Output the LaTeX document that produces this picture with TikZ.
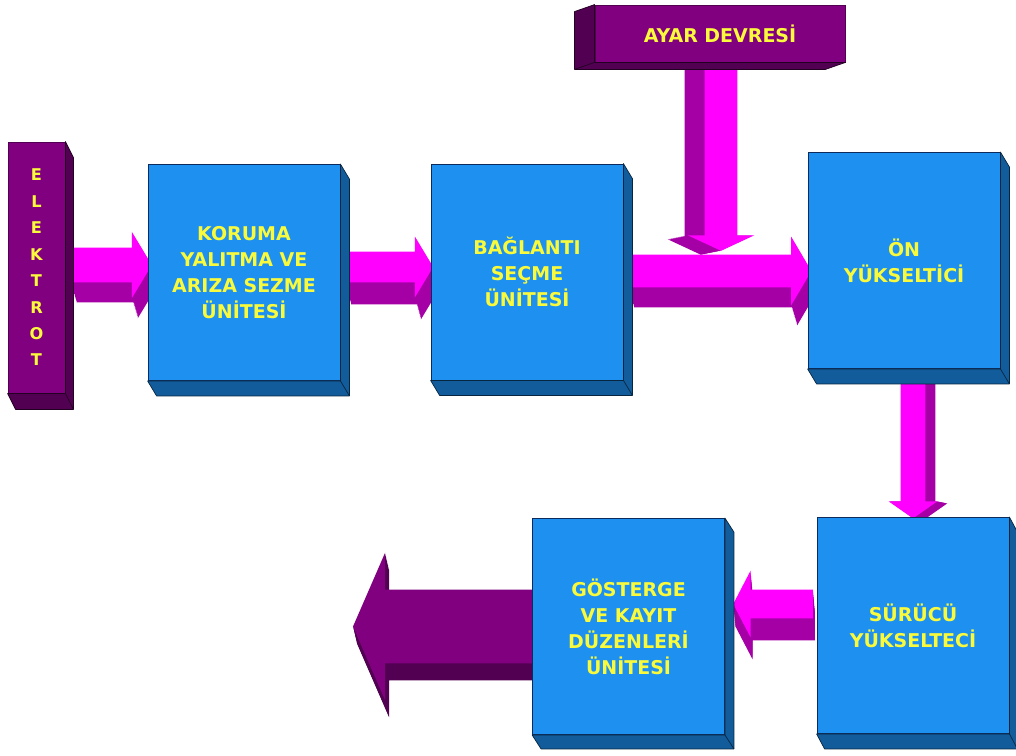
\documentclass[tikz,border=0pt]{standalone}
\usepackage{fontspec}
\setmainfont{DejaVu Sans}
\usetikzlibrary{calc,shapes.arrows}

\definecolor{boxface}{RGB}{30,144,240}
\definecolor{boxside}{RGB}{18,92,156}
\definecolor{boxline}{RGB}{12,42,92}
\definecolor{pink}{RGB}{255,0,255}
\definecolor{pinkside}{RGB}{165,0,165}
\definecolor{plum}{RGB}{128,0,128}
\definecolor{plumside}{RGB}{82,0,82}
\definecolor{label}{RGB}{250,250,60}

\pgfdeclarelayer{paper}
\pgfdeclarelayer{pipes}
\pgfsetlayers{paper,pipes,main}

% one pixel of the sheet
\def\px{0.025cm}
\newcommand\labelfont{\bfseries\fontsize{13.5}{18.5}\selectfont}

\tikzset{
  unit/.style={draw=boxline, fill=boxface, line width=0.6pt, inner sep=0pt,
    minimum width=192*\px, minimum height=216*\px,
    text=label, font=\labelfont, align=center},
  source/.style={draw=plumside, fill=plum, line width=0.6pt, inner sep=0pt,
    text=label, font=\labelfont, align=center},
  % half shaft, head extend, tip angle
  pipe/.style n args={3}{single arrow, draw=none, inner xsep=0pt,
    inner ysep=#1*\px, single arrow head extend=#2*\px,
    single arrow tip angle=#3, single arrow head indent=0pt},
}

% side and bottom faces of a box: node, three back anchors, depth, colour
\newcommand\slab[6]{%
  \filldraw[fill=#6, draw=black!60!#6, line width=0.5pt, line join=round]
    (#1.#2) -- ++(#5) -- ($(#1.#3)+(#5)$) -- ($(#1.#4)+(#5)$)
    -- (#1.#4) -- (#1.#3) -- cycle;
  \draw[black!60!#6, line width=0.5pt] (#1.#3) -- ++(#5);}

% thick arrow with depth: tail, tip, pipe style, depth, colour
\newcommand\blockarrow[5]{%
  \foreach \k in {12,11,...,1}
    \path let \p1=($#1+\k/12*(#4)$), \p2=($#2+\k/12*(#4)$),
              \n1={veclen(\x2-\x1,\y2-\y1)} in
      (\p1) -- (\p2) node[midway, sloped, allow upside down, #3,
                          fill=#5side, minimum height=\n1] {};
  \path let \p1=($#1$), \p2=($#2$), \n1={veclen(\x2-\x1,\y2-\y1)} in
    (\p1) -- (\p2) node[midway, sloped, allow upside down, #3,
                        fill=#5, minimum height=\n1] {};}

\begin{document}
\begin{tikzpicture}[x=\px, y=-\px]

\begin{pgfonlayer}{paper}
  \fill[white] (0,0) rectangle (1016,755);
\end{pgfonlayer}
\useasboundingbox (0,0) rectangle (1016,755);

%---------------------------------------
% Units
%---------------------------------------
\node[source, minimum width=57*\px, minimum height=251*\px,
      font=\bfseries\fontsize{11.5}{18.8}\selectfont]
      (elektrot) at (36.5,267.5) {E\\L\\E\\K\\T\\R\\O\\T};
\node[unit] (koruma)   at (244,272.5) {KORUMA\\YALITMA VE\\ARIZA SEZME\\ÜNİTESİ};
\node[unit] (baglanti) at (527,272)   {BAĞLANTI\\SEÇME\\ÜNİTESİ};
\node[unit] (onyuk)    at (904,260.5) {ÖN\\YÜKSELTİCİ};
\node[unit] (surucu)   at (913,625.5) {SÜRÜCÜ\\YÜKSELTECİ};
\node[unit] (gosterge) at (628.5,626.5) {GÖSTERGE\\VE KAYIT\\DÜZENLERİ\\ÜNİTESİ};
\node[source, minimum width=250*\px, minimum height=57*\px]
      (ayar) at (720,33.5) {AYAR DEVRESİ};

\coordinate (tune) at (721,247);
\coordinate (out)  at (361,626.5);

% depth of each box
\slab{elektrot}{north east}{south east}{south west}{8,16}{plumside}
\slab{koruma}{north east}{south east}{south west}{9,15}{boxside}
\slab{baglanti}{north east}{south east}{south west}{9,15}{boxside}
\slab{onyuk}{north east}{south east}{south west}{9,15}{boxside}
\slab{surucu}{north east}{south east}{south west}{8,15}{boxside}
\slab{gosterge}{north east}{south east}{south west}{9,14}{boxside}
\slab{ayar}{north west}{south west}{south east}{-20,7}{plumside}

%---------------------------------------
% Signal path
%---------------------------------------
\begin{pgfonlayer}{pipes}
  \blockarrow{(elektrot.east)+(0,-2.5)}{(koruma.west)+(-1,-7.5)}{pipe={17}{16}{118}}{6,20}{pink}
  \blockarrow{(koruma.east)+(0,-5.5)}{(baglanti.west)+(-2,-5)}{pipe={15}{15}{118}}{6,22}{pink}
  \blockarrow{(baglanti.east)+(0,-1)}{(onyuk.west)+(-1,10.5)}{pipe={16}{18}{119}}{6,20}{pink}
  \blockarrow{(ayar.south)+(1,0)}{(tune)}{pipe={16}{17}{130}}{-20,4}{pink}
  \blockarrow{(onyuk.south)+(9,0)}{(surucu.north)+(0,-3)}{pipe={12}{12}{110}}{10,2}{pink}
  \blockarrow{(surucu.west)+(0,-21.5)}{(gosterge.east)+(12,-22.5)}{pipe={14}{19}{125}}{2,22}{pink}
  \blockarrow{(gosterge.west)+(8,0)}{(out)}{pipe={36.5}{37}{133}}{4,17}{plum}
\end{pgfonlayer}

\end{tikzpicture}
\end{document}
